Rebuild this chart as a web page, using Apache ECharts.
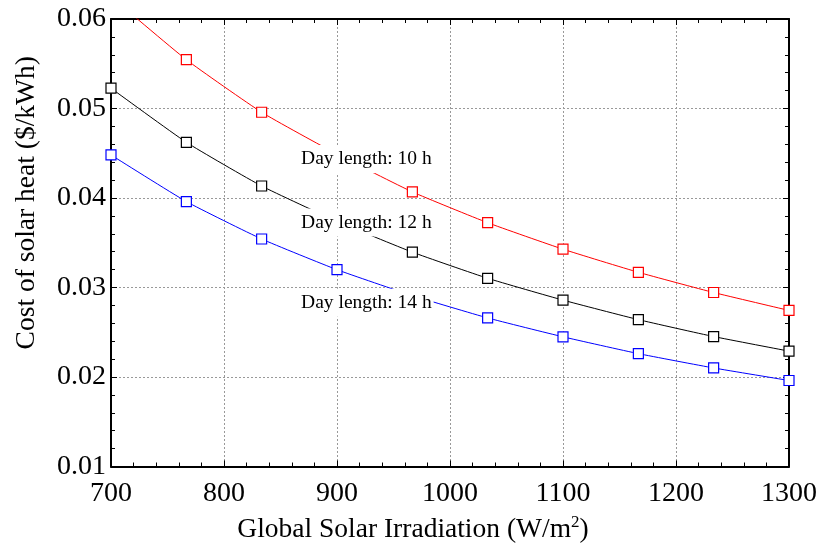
<!DOCTYPE html>
<html>
<head>
<meta charset="utf-8">
<script src="https://cdn.jsdelivr.net/npm/echarts@6/dist/echarts.min.js"></script>
<style>html,body{margin:0;padding:0;background:#fff;}#c{width:821px;height:549px;}</style>
</head>
<body>
<div id="c"></div>
<script>
const irradiation = [700, 766.7, 833.3, 900, 966.7, 1033.3, 1100, 1166.7, 1233.3, 1300];
const cost10h = [0.0625, 0.05545, 0.04958, 0.0449, 0.04068, 0.03724, 0.03428, 0.0317, 0.02944, 0.02744];
const cost12h = [0.05227, 0.04622, 0.04134, 0.0374, 0.03395, 0.03103, 0.02859, 0.02641, 0.02452, 0.02289];
const cost14h = [0.04481, 0.0396, 0.03542, 0.03199, 0.0291, 0.0266, 0.02449, 0.02261, 0.02101, 0.01961];
const labelText = ['Day length: 10 h', 'Day length: 12 h', 'Day length: 14 h'];
const labelAt = [[926, 0.04437], [926, 0.03727], [926, 0.02829]];

const FONT = 'Liberation Serif';
const chart = echarts.init(document.getElementById('c'), null, {renderer: 'canvas'});

function pairs(ys) { return irradiation.map((x, i) => [x, ys[i]]); }

function mkSeries(name, ys, color, lbl, at) {
  return {
    name: name, type: 'line', data: pairs(ys), smooth: 0.15,
    xAxisIndex: 0, yAxisIndex: 0,
    symbol: 'rect', symbolSize: 10,
    lineStyle: {color: color, width: 1},
    itemStyle: {color: '#fff', borderColor: color, borderWidth: 1.2},
    z: 3,
    markPoint: {
      symbol: 'circle', symbolSize: 1, z: 10,
      itemStyle: {color: 'rgba(0,0,0,0)'},
      data: [{coord: at, value: 0}],
      label: {
        show: true, position: 'inside', formatter: lbl,
        color: '#000', fontFamily: FONT, fontSize: 19.5,
        backgroundColor: '#fff', padding: [4, 2]
      }
    }
  };
}

const axisCommon = {
  axisLine: {show: true, onZero: false, lineStyle: {color: '#000', width: 2}},
  axisTick: {show: true, inside: true, length: 6, lineStyle: {color: '#000', width: 1}},
  minorTick: {show: true, splitNumber: 5, length: 4, lineStyle: {color: '#000', width: 1}},
};

chart.setOption({
  animation: false,
  backgroundColor: '#fff',
  textStyle: {fontFamily: FONT},
  grid: {left: 111, right: 32, top: 19, bottom: 79, containLabel: false},
  xAxis: [
    Object.assign({}, axisCommon, {
      type: 'value', min: 700, max: 1300, interval: 100, position: 'bottom',
      axisLabel: {color: '#000', fontFamily: FONT, fontSize: 28, margin: 13,
        formatter: v => String(v)},
      splitLine: {show: true, lineStyle: {color: '#999', width: 1, type: [2, 2]}},
      name: 'Global Solar Irradiation (W/m{sup|2})',
      nameLocation: 'middle', nameGap: 48,
      nameTextStyle: {color: '#000', fontFamily: FONT, fontSize: 27.5, padding: [0, 74, 0, 0],
        rich: {sup: {fontFamily: FONT, fontSize: 17, color: '#000', padding: [0, 0, 14, 0]}}}
    }),
    Object.assign({}, axisCommon, {
      type: 'value', min: 700, max: 1300, interval: 100, position: 'top',
      axisLabel: {show: false}, splitLine: {show: false}
    })
  ],
  yAxis: [
    Object.assign({}, axisCommon, {
      type: 'value', min: 0.01, max: 0.06, interval: 0.01, position: 'left',
      axisLabel: {color: '#000', fontFamily: FONT, fontSize: 28, margin: 5,
        formatter: v => v.toFixed(2)},
      splitLine: {show: true, lineStyle: {color: '#999', width: 1, type: [2, 2]}},
      name: 'Cost of solar heat ($/kWh)',
      nameLocation: 'middle', nameGap: 70,
      nameTextStyle: {color: '#000', fontFamily: FONT, fontSize: 27.5, padding: [0, 0, 0, 80]}
    }),
    Object.assign({}, axisCommon, {
      type: 'value', min: 0.01, max: 0.06, interval: 0.01, position: 'right',
      axisLabel: {show: false}, splitLine: {show: false}
    })
  ],
  series: [
    mkSeries('10 h', cost10h, '#ff0000', labelText[0], labelAt[0]),
    mkSeries('12 h', cost12h, '#000000', labelText[1], labelAt[1]),
    mkSeries('14 h', cost14h, '#0000ff', labelText[2], labelAt[2])
  ]
});
</script>
</body>
</html>
